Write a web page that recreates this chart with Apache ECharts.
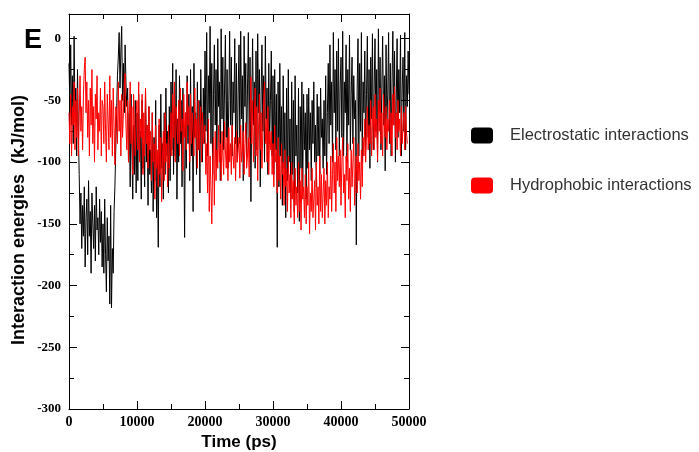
<!DOCTYPE html>
<html>
<head>
<meta charset="utf-8">
<script src="https://cdn.jsdelivr.net/npm/echarts@6/dist/echarts.min.js"></script>
<style>
  html, body { margin: 0; padding: 0; background: #fff; }
  #main { width: 699px; height: 452px; }
</style>
</head>
<body>
<div id="main"></div>
<script>
// samples every 125 ps
var timeStep = 125;

var electrostatic = [
  // 0 - 4875
  -20, -55, -5, -70, -30, -85, 2, -60, -40, -95, -25, -75,
  -110, -150, -125, -170, -135, -160, -120, -185, -145, -130, -175, -115, -160, -140, -190, -125, -150, -170, -135, -180, -120, -155, -145, -175, -130, -165, -140, -185,
  // 5000 - 9875
  -150, -190, -130, -175, -205, -145, -180, -160, -215, -135, -218, -170, -190, -140, -120,
  -90, -60, -30, -15,
  5, -40, -10, 10, -50, -20, -60, -5, -35, -55,
  -40, -100, -60, -120, -45, -90, -130, -70, -110, -50, -125,
  // 10000 - 14875
  -60, -115, -45, -95, -75, -130, -50, -105, -85, -120, -40, -100, -70, -135, -55, -110, -90, -125, -60, -140,
  -80, -115, -50, -145, -95, -169, -70, -120, -45, -105, -85, -130, -60, -110, -40, -95, -75, -125, -55, -115,
  // 15000 - 19875
  -35, -90, -20, -110, -55, -95, -25, -130, -65, -100, -30, -85, -50, -120, -40, -75, -161, -60, -105, -30,
  -85, -45, -115, -25, -95, -55, -140, -20, -80, -60, -110, -35, -90, -50, -125, -25, -70, -100, -40, -85,
  // 20000 - 24875
  -10, -75, 5, -95, -30, -60, 10, -85, -20, -110, -45, -5, -70, -25, -100, 0, -55, -35, -115, 8,
  -65, -15, -90, -40, 3, -80, -25, -105, -50, 6, -70, -15, -95, -35, -60, 0, -85, -20, -100, -45,
  // 25000 - 29875
  -5, -85, 6, -65, -30, -115, 2, -55, -20, -95, -40, 5, -80, -15, -132, -50, 0, -70, -35, -105,
  -10, -90, 4, -60, -25, -120, -45, -5, -75, -30, -100, 2, -65, -40, -110, -20, -85, -50, -10, -95,
  // 30000 - 34875
  -30, -110, -25, -90, -45, -169, -35, -120, -20, -95, -55, -135, -30, -105, -60, -145, -40, -115, -25, -100,
  -65, -130, -35, -110, -50, -140, -30, -95, -70, -125, -40, -148, -55, -105, -35, -120, -45, -90, -60, -130,
  // 35000 - 39875
  -45, -105, -40, -90, -60, -115, -50, -85, -35, -100, -70, -120, -45, -95, -55, -110, -40, -80, -65, -105, -50, -95, -30, -110, -60,
  -20, -85, -5, -70, -35, -100, 5, -60, -25, -90, -10, -75, 0, -95, -40,
  // 40000 - 44875
  -15, -80, 6, -95, -35, -60, -5, -100, -25, -70, 3, -90, -45, -15, -85, -30, -65, -50, -167, -40,
  0, -95, -20, -75, 5, -100, -35, -60, -10, -90, -45, 2, -80, -25, -105, -15, -65, 4, -90, -40,
  // 45000 - 50000
  0, -75, -25, -100, 8, -60, -15, -90, -40, 2, -70, -30, -107, -5, -65, -45, 5, -85, -20, -95,
  -35, 6, -70, -10, -100, -50, 0, -80, -25, -60, 3, -95, -40, -15, -75, 5, -90, -30, -55, -10,
  -45
];

var hydrophobic = [
  // 0 - 4875
  -60, -85, -45, -95, -55, -70, -35, -90, -50, -80, -40, -95, -65, -30, -75, -55, -90, -45, -25, -15,
  -60, -35, -80, -50, -95, -40, -70, -25, -85, -55, -100, -45, -65, -30, -90, -60, -75, -40, -95, -50,
  // 5000 - 9875
  -55, -85, -35, -75, -100, -45, -65, -90, -30, -80, -50, -95, -40, -70, -102, -55, -60, -85, -35, -75,
  -50, -95, -45, -80, -60, -40, -28, -70, -90, -50, -100, -65, -35, -85, -55, -110, -45, -75, -95, -60,
  // 10000 - 14875
  -50, -90, -35, -100, -65, -80, -45, -110, -60, -95, -40, -85, -70, -105, -55, -90,
  -75, -115, -60, -100, -85, -130, -70, -105, -90, -120, -65, -110, -80, -132, -95, -75, -115, -60, -100, -85, -120, -70, -105, -90,
  // 15000 - 19875
  -60, -95, -45, -80, -35, -100, -55, -70, -85, -50, -95, -40, -75, -65, -107, -45, -80, -60, -90, -35,
  -70, -55, -100, -45, -85, -60, -75, -95, -40, -80, -65, -105, -50, -90, -70, -55, -100, -60, -85, -75,
  // 20000 - 24875
  -70, -110, -85, -125, -65, -140, -95, -120, -150, -100, -80, -135, -75, -115, -90, -105,
  -70, -100, -85, -115, -75, -95, -110, -67, -90, -105, -80, -115, -72, -100, -85, -110, -70, -95, -105, -80, -115, -75, -100, -90,
  // 25000 - 29875
  -80, -113, -70, -100, -90, -75, -110, -85, -68, -105, -95, -80, -112,
  -60, -31, -85, -50, -100, -65, -40, -95, -55, -115, -70, -45, -90, -60, -105, -75, -50, -35, -85, -65, -100, -55, -110, -75, -90,
  // 30000 - 34875
  -75, -110, -85, -120, -70, -100, -90, -125, -80, -115, -95, -130, -85, -110, -100, -135, -90, -120, -105, -140,
  -95, -125, -110, -145, -100, -130, -115, -150, -105, -135, -120, -145, -100, -140, -115, -155, -105, -130, -120, -145,
  // 35000 - 39875
  -110, -150, -120, -135, -100, -158, -125, -140, -105, -145, -130, -115, -155, -100, -135, -120, -150, -95, -140, -110, -145, -125, -105, -150, -115, -135, -100, -145, -120, -130, -95, -140, -110,
  -85, -125, -100, -140, -80, -115, -95,
  // 40000 - 44875
  -120, -90, -135, -100, -80, -125, -110, -145, -95, -115, -85, -130, -105, -140, -90, -120, -100, -80, -135, -110, -95, -125, -85, -115, -100, -130, -90, -120, -80,
  -95, -65, -100, -75, -55, -90, -70, -85, -50, -95, -65,
  // 45000 - 50000
  -55, -90, -45, -80, -65, -99, -50, -75, -40, -85, -60, -95, -45, -70, -80, -55, -90, -65, -75, -50,
  -85, -60, -95, -45, -70, -39, -80, -60, -90, -50, -75, -65, -95, -55, -85, -70, -60, -90, -55, -75,
  -85
];

var seriesNames = ['Electrostatic interactions', 'Hydrophobic interactions'];

function toPairs(vals) {
  var out = [];
  for (var i = 0; i < vals.length; i++) out.push([i * timeStep, vals[i]]);
  return out;
}

var tickFont = { fontFamily: 'Liberation Serif', fontWeight: 'bold', fontSize: 13, color: '#000' };

function frameAxis(extra) {
  var base = {
    type: 'value',
    axisLine: { onZero: false, lineStyle: { color: '#000', width: 1 } },
    axisTick: { inside: true, length: 8, lineStyle: { color: '#000' } },
    minorTick: { show: true, splitNumber: 2, length: 5, lineStyle: { color: '#000' } },
    splitLine: { show: false }
  };
  return Object.assign(base, extra);
}

var chart = echarts.init(document.getElementById('main'));
chart.setOption({
  animation: false,
  backgroundColor: '#fff',
  graphic: [{
    type: 'text', left: 24, top: 27,
    style: { text: 'E', font: 'bold 27px Liberation Sans', fill: '#000' }
  }, {
    // y axis title, placed a little below the grid centre as in the original
    type: 'text', x: 19, y: 220, rotation: Math.PI / 2,
    style: {
      text: 'Interaction energies  (kJ/mol)', font: 'bold 18px Liberation Sans', fill: '#000',
      align: 'center', verticalAlign: 'middle'
    }
  }],
  legend: {
    orient: 'vertical',
    left: 466, top: 122,
    itemWidth: 22, itemHeight: 16, itemGap: 33,
    icon: 'roundRect',
    textStyle: { fontFamily: 'Liberation Sans', fontSize: 16.5, color: '#333', padding: [0, 0, 0, 12] },
    data: seriesNames.map(function (n) { return { name: n }; })
  },
  grid: { left: 69, right: 290, top: 14, bottom: 43, outerBoundsMode: 'none' },
  xAxis: [
    frameAxis({
      min: 0, max: 50000, interval: 10000,
      name: 'Time (ps)', nameLocation: 'middle', nameGap: 22,
      nameTextStyle: { fontFamily: 'Liberation Sans', fontWeight: 'bold', fontSize: 17, color: '#000' },
      axisLabel: Object.assign({ margin: 6, formatter: function (v) { return String(v); } }, tickFont, { fontSize: 14 })
    }),
    frameAxis({ position: 'top', min: 0, max: 50000, interval: 10000, axisLabel: { show: false } })
  ],
  yAxis: [
    frameAxis({
      min: -300, max: 20, interval: 50,
      axisLabel: Object.assign({
        margin: 8,
        formatter: function (v) { return v % 50 === 0 ? String(v) : ''; }
      }, tickFont)
    }),
    frameAxis({ position: 'right', min: -300, max: 20, interval: 50, axisLabel: { show: false } })
  ],
  series: [{
    name: seriesNames[0], type: 'line', showSymbol: false, symbol: 'none',
    itemStyle: { color: '#000' },
    lineStyle: { color: '#000', width: 1 },
    data: toPairs(electrostatic)
  }, {
    name: seriesNames[1], type: 'line', showSymbol: false, symbol: 'none',
    itemStyle: { color: '#ff0000' },
    lineStyle: { color: '#ff0000', width: 1 },
    data: toPairs(hydrophobic)
  }]
});
</script>
</body>
</html>
